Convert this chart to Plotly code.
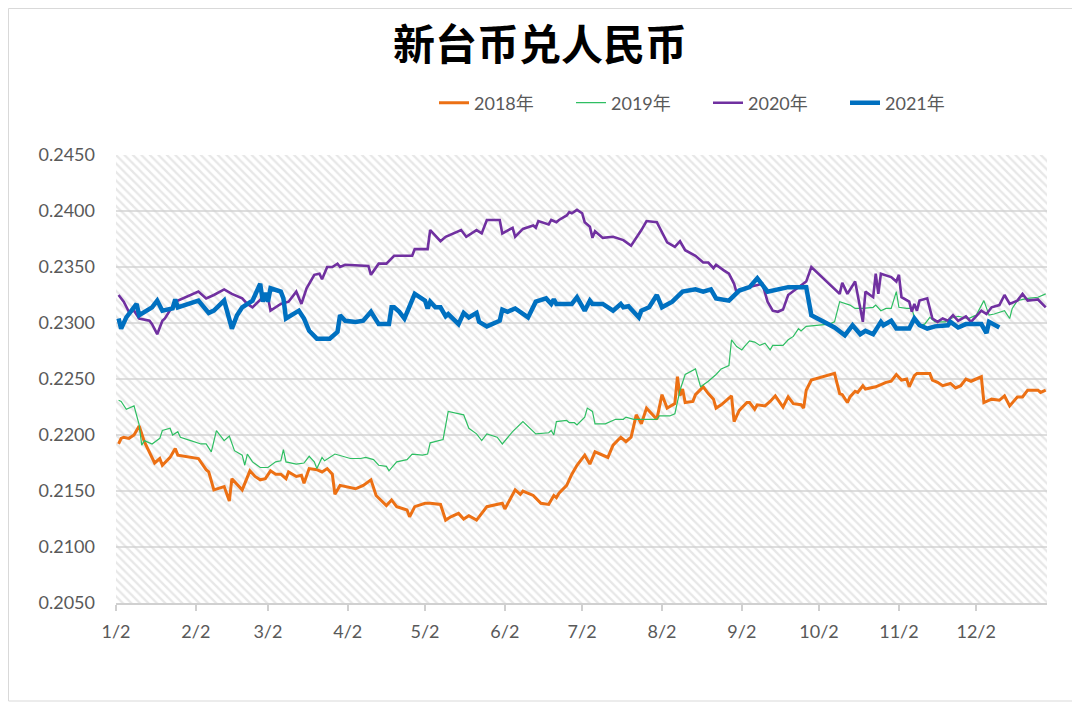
import pandas as pd
import plotly.graph_objects as go

# ---------------- data (day-of-year, value) ----------------
doy_2018 = [3,4,5,7,9,11,13,15,17,19,20,23,25,26,29,34,37,38,40,44,46,47,51,54,56,58,60,62,64,66,68,69,72,74,75,77,80,82,84,86,87,89,95,98,101,103,107,109,111,115,116,118,122,124,128,130,132,135,137,139,142,146,152,153,157,159,160,164,167,170,172,173,174,177,179,181,184,186,188,193,195,198,200,202,204,206,208,212,214,216,219,220,221,222,223,226,227,230,232,234,235,237,241,242,244,247,248,250,251,254,256,258,261,263,265,268,269,270,272,281,283,284,286,287,289,290,292,293,297,301,303,305,307,309,310,312,313,318,319,321,323,326,328,330,332,334,336,338,339,342,345,347,349,352,354,356,360,361,363]
val_2018 = [0.2192,0.2197,0.2198,0.2197,0.2200,0.2208,0.2194,0.2185,0.2175,0.2179,0.2173,0.2180,0.2188,0.2182,0.2181,0.2179,0.2169,0.2167,0.2151,0.2154,0.2141,0.2161,0.2151,0.2168,0.2163,0.2160,0.2161,0.2168,0.2165,0.2165,0.2161,0.2167,0.2163,0.2164,0.2157,0.2170,0.2169,0.2167,0.2170,0.2165,0.2147,0.2155,0.2152,0.2155,0.2160,0.2146,0.2137,0.2142,0.2136,0.2133,0.2127,0.2136,0.2139,0.2139,0.2138,0.2124,0.2127,0.2130,0.2125,0.2128,0.2124,0.2136,0.2139,0.2134,0.2151,0.2147,0.2150,0.2146,0.2139,0.2138,0.2146,0.2144,0.2148,0.2155,0.2165,0.2173,0.2182,0.2174,0.2185,0.2180,0.2191,0.2198,0.2194,0.2198,0.2218,0.2210,0.2224,0.2214,0.2236,0.2224,0.2228,0.2252,0.2235,0.2241,0.2229,0.2230,0.2236,0.2243,0.2237,0.2232,0.2224,0.2227,0.2235,0.2212,0.2222,0.2229,0.2229,0.2223,0.2227,0.2226,0.2230,0.2235,0.2225,0.2234,0.2228,0.2227,0.2224,0.2240,0.2249,0.2255,0.2237,0.2236,0.2229,0.2234,0.2239,0.2238,0.2244,0.2241,0.2243,0.2247,0.2248,0.2254,0.2249,0.2250,0.2243,0.2253,0.2255,0.2255,0.2249,0.2247,0.2244,0.2246,0.2242,0.2244,0.2250,0.2248,0.2250,0.2252,0.2229,0.2232,0.2231,0.2235,0.2226,0.2234,0.2234,0.2240,0.2240,0.2238,0.2240]

doy_2019 = [3,4,6,9,11,12,13,16,19,20,23,24,26,27,31,35,37,39,41,44,46,48,51,52,53,55,58,61,64,66,67,68,72,75,77,79,80,82,83,87,93,97,99,102,104,107,108,111,115,117,121,123,124,129,131,137,139,142,144,146,150,152,156,160,165,170,171,172,173,177,178,180,181,184,185,187,188,192,196,199,200,203,208,212,213,217,219,221,223,226,227,229,232,235,237,240,241,243,245,246,248,250,252,254,256,257,261,263,265,267,268,270,279,281,283,287,289,292,296,297,299,301,303,305,306,309,311,312,314,316,318,320,324,326,329,333,336,339,341,343,347,349,350,352,356,360,363]
val_2019 = [0.2231,0.2230,0.2223,0.2226,0.2209,0.2191,0.2195,0.2192,0.2197,0.2204,0.2206,0.2200,0.2203,0.2198,0.2195,0.2192,0.2192,0.2185,0.2204,0.2195,0.2199,0.2186,0.2182,0.2173,0.2183,0.2176,0.2171,0.2171,0.2176,0.2177,0.2187,0.2176,0.2174,0.2175,0.2181,0.2176,0.2170,0.2180,0.2177,0.2183,0.2179,0.2179,0.2180,0.2178,0.2173,0.2172,0.2168,0.2176,0.2178,0.2183,0.2182,0.2183,0.2193,0.2196,0.2221,0.2218,0.2206,0.2201,0.2195,0.2201,0.2198,0.2192,0.2203,0.2212,0.2201,0.2202,0.2204,0.2200,0.2212,0.2213,0.2211,0.2211,0.2209,0.2216,0.2224,0.2221,0.2210,0.2210,0.2214,0.2214,0.2216,0.2214,0.2214,0.2214,0.2217,0.2217,0.2219,0.2240,0.2254,0.2258,0.2259,0.2243,0.2248,0.2254,0.2259,0.2262,0.2285,0.2279,0.2276,0.2279,0.2284,0.2283,0.2280,0.2282,0.2276,0.2280,0.2280,0.2285,0.2288,0.2295,0.2293,0.2297,0.2299,0.2301,0.2319,0.2316,0.2313,0.2313,0.2314,0.2316,0.2311,0.2313,0.2313,0.2328,0.2314,0.2313,0.2313,0.2305,0.2298,0.2299,0.2305,0.2301,0.2301,0.2304,0.2306,0.2304,0.2307,0.2320,0.2307,0.2308,0.2311,0.2304,0.2313,0.2320,0.2322,0.2323,0.2326]

doy_2020 = [3,5,7,9,11,15,16,18,20,21,25,29,34,37,40,44,47,51,53,55,59,61,62,66,69,72,74,76,79,81,82,84,86,88,89,91,100,101,104,107,110,117,118,123,124,128,130,136,138,142,144,146,151,152,156,157,159,160,164,165,166,170,171,173,174,177,178,179,181,183,184,186,187,188,191,195,199,202,206,208,212,216,219,221,223,227,230,232,234,235,238,240,242,243,246,248,253,255,257,259,261,263,267,270,272,283,284,286,289,292,293,296,297,298,299,303,305,306,307,310,311,312,313,314,317,319,321,323,325,327,329,332,334,338,340,342,345,347,349,352,354,356,360,363]
val_2020 = [0.2325,0.2319,0.2310,0.2311,0.2304,0.2302,0.2299,0.2290,0.2302,0.2304,0.2319,0.2323,0.2328,0.2322,0.2325,0.2330,0.2326,0.2322,0.2317,0.2314,0.2323,0.2323,0.2311,0.2317,0.2319,0.2328,0.2317,0.2331,0.2343,0.2344,0.2339,0.2350,0.2350,0.2353,0.2350,0.2352,0.2351,0.2343,0.2353,0.2353,0.2360,0.2360,0.2366,0.2366,0.2383,0.2373,0.2377,0.2383,0.2377,0.2383,0.2380,0.2392,0.2392,0.2380,0.2385,0.2377,0.2382,0.2384,0.2387,0.2385,0.2391,0.2388,0.2392,0.2390,0.2392,0.2396,0.2399,0.2398,0.2401,0.2398,0.2390,0.2386,0.2376,0.2382,0.2376,0.2377,0.2374,0.2369,0.2383,0.2391,0.2390,0.2372,0.2368,0.2373,0.2365,0.2360,0.2354,0.2354,0.2349,0.2352,0.2347,0.2344,0.2335,0.2327,0.2331,0.2332,0.2335,0.2319,0.2311,0.2310,0.2312,0.2325,0.2332,0.2337,0.2350,0.2326,0.2336,0.2326,0.2337,0.2301,0.2328,0.2323,0.2344,0.2326,0.2344,0.2341,0.2337,0.2343,0.2323,0.2319,0.2310,0.2317,0.2311,0.2320,0.2322,0.2304,0.2301,0.2304,0.2302,0.2307,0.2302,0.2306,0.2301,0.2311,0.2308,0.2314,0.2316,0.2325,0.2317,0.2320,0.2326,0.2320,0.2321,0.2314]

doy_2021 = [3,4,6,10,11,14,16,18,20,24,25,26,29,34,38,40,44,47,49,51,55,58,59,60,61,62,66,67,68,70,73,75,77,80,85,88,89,91,95,98,101,104,108,109,110,112,114,118,122,123,124,126,128,130,131,135,137,139,142,143,146,151,152,154,157,162,165,169,171,172,173,179,181,184,186,187,191,195,198,199,201,205,206,209,212,214,218,222,227,230,233,235,240,244,248,251,255,263,270,272,276,281,285,287,288,291,293,296,299,300,303,305,310,312,314,317,320,325,326,329,332,338,340,341,345]
val_2021 = [0.2304,0.2295,0.2305,0.2317,0.2307,0.2311,0.2314,0.2320,0.2311,0.2313,0.2321,0.2314,0.2316,0.2320,0.2309,0.2311,0.2320,0.2295,0.2307,0.2314,0.2320,0.2335,0.2319,0.2327,0.2319,0.2331,0.2328,0.2322,0.2304,0.2307,0.2311,0.2304,0.2293,0.2286,0.2286,0.2292,0.2307,0.2302,0.2301,0.2302,0.2310,0.2299,0.2299,0.2314,0.2314,0.2310,0.2304,0.2326,0.2320,0.2313,0.2319,0.2314,0.2314,0.2306,0.2308,0.2299,0.2309,0.2305,0.2309,0.2301,0.2297,0.2302,0.2312,0.2310,0.2313,0.2305,0.2319,0.2322,0.2317,0.2321,0.2317,0.2317,0.2323,0.2311,0.2320,0.2317,0.2317,0.2311,0.2317,0.2314,0.2315,0.2305,0.2311,0.2314,0.2325,0.2314,0.2319,0.2328,0.2330,0.2328,0.2330,0.2322,0.2320,0.2329,0.2332,0.2340,0.2328,0.2332,0.2332,0.2307,0.2302,0.2296,0.2289,0.2296,0.2298,0.2290,0.2293,0.2290,0.2301,0.2298,0.2302,0.2295,0.2295,0.2304,0.2298,0.2295,0.2297,0.2298,0.2301,0.2296,0.2299,0.2299,0.2291,0.2301,0.2296]

series_names = ["2018年", "2019年", "2020年", "2021年"]
series_colors = ["#EC7014", "#2EBE62", "#7030A0", "#0070C0"]
series_widths = [3, 1.2, 2.6, 4.5]

tick_months = [1,2,3,4,5,6,7,8,9,10,11,12]
y_min, y_max, y_step = 0.2050, 0.2450, 0.0050

# ---------------- figure ----------------
base = pd.Timestamp("2021-01-01")
def to_dates(doys):
    return [base + pd.Timedelta(days=d - 1) for d in doys]

x_start = base + pd.Timedelta(days=1)
x_end = base + pd.Timedelta(days=362.5)

W, H = 1072, 695          # page adds an 8px body margin
ML, MR, MT, MB = 108, 33, 147, 100
PW, PH = W - ML - MR, H - MT - MB
PLOT_BOTTOM = MT + PH

fig = go.Figure()

# hatched plot background
fig.add_trace(go.Scatter(
    x=[x_start, x_end, x_end, x_start, x_start],
    y=[y_min, y_min, y_max, y_max, y_min],
    mode="lines", fill="toself", line=dict(width=0),
    fillcolor="rgba(0,0,0,0)",
    fillpattern=dict(shape="\\", fgcolor="#cfcfcf", size=6, solidity=0.38),
    hoverinfo="skip", showlegend=False,
))

all_doys = [doy_2018, doy_2019, doy_2020, doy_2021]
all_vals = [val_2018, val_2019, val_2020, val_2021]
for name, color, w, d, v in zip(series_names, series_colors, series_widths, all_doys, all_vals):
    fig.add_trace(go.Scatter(
        x=to_dates(d), y=v, mode="lines", name=name,
        line=dict(color=color, width=w),
    ))

tick_font = dict(family="Lato, 'Noto Sans CJK SC', sans-serif", size=18, color="#595959")

fig.update_layout(
    width=W, height=H,
    paper_bgcolor="white", plot_bgcolor="white",
    margin=dict(l=ML, r=MR, t=MT, b=MB),
    title=dict(
        text="<b>新台币兑人民币</b>",
        font=dict(family="Noto Sans CJK SC", size=42, color="#000000"),
        x=532 / W, xref="container", xanchor="center",
        y=1 - 37 / H, yref="container", yanchor="middle",
    ),
    legend=dict(
        orientation="h", x=(426 - ML) / PW, xanchor="left",
        y=(PLOT_BOTTOM - 95) / PH, yanchor="middle",
        font=dict(family="Lato, 'Noto Sans CJK SC', sans-serif", size=18, color="#595959"),
        entrywidth=92, entrywidthmode="pixels",
        bgcolor="rgba(0,0,0,0)",
    ),
    showlegend=True,
)

fig.update_xaxes(
    type="date", range=[x_start, x_end],
    tickvals=[pd.Timestamp(2021, m, 2) for m in tick_months],
    ticktext=[f"{m}/2" for m in tick_months],
    showgrid=False, showline=True, linecolor="#d0d0d0", linewidth=1.5,
    ticks="outside", ticklen=6, tickcolor="#d0d0d0", tickwidth=1.5,
    tickfont=tick_font, ticklabelstandoff=6,
    zeroline=False,
)
fig.update_yaxes(
    range=[y_min, y_max], dtick=y_step, tick0=y_min, tickformat=".4f",
    showgrid=True, gridcolor="#dedede", gridwidth=1.5,
    showline=False, zeroline=False, ticks="",
    tickfont=tick_font, ticklabelstandoff=20,
)

# outer chart border
fig.add_shape(
    type="rect", xref="paper", yref="paper",
    x0=(0.5 - ML) / PW, x1=(1070 - ML) / PW,
    y0=(PLOT_BOTTOM - 693) / PH, y1=(PLOT_BOTTOM - 0.5) / PH,
    line=dict(color="#d9d9d9", width=1), fillcolor="rgba(0,0,0,0)", layer="below",
)

fig.write_html("out.html")
